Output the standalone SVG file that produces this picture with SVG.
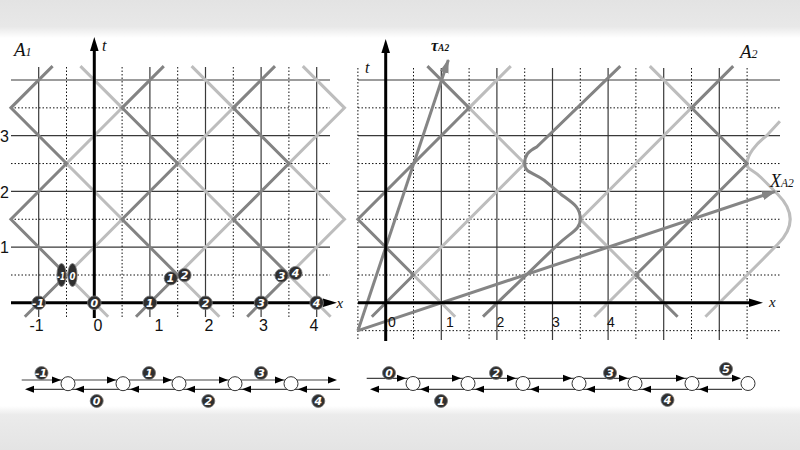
<svg xmlns="http://www.w3.org/2000/svg" xmlns:xlink="http://www.w3.org/1999/xlink" width="800" height="450" viewBox="0 0 800 450">
<defs>
<style>
.gs{stroke:#3a3a3a;stroke-width:1.2;fill:none}
.gd{stroke:#111;stroke-width:1;stroke-dasharray:1.5 2;fill:none}
.pg{stroke:#838383;stroke-width:3;fill:none;stroke-linejoin:miter}
.pl{stroke:#bdbdbd;stroke-width:3;fill:none;stroke-linejoin:miter}
.ax{stroke:#000;stroke-width:3;fill:none}
.arw{stroke:#858585;stroke-width:3;fill:none}
.tk{font-family:"Liberation Sans","DejaVu Sans",sans-serif;fill:#111}
.it{font-family:"Liberation Serif","DejaVu Serif",serif;font-style:italic;fill:#111}
.mk circle,.mk ellipse{fill:#2f2f2f;stroke:#777;stroke-width:0.8}
.mk text{fill:#fff;font-family:"DejaVu Sans","Liberation Sans",sans-serif;font-style:italic;font-weight:bold;font-size:11px;text-anchor:middle}
.ch line{stroke:#444;stroke-width:1.2}
.ch circle{fill:#fff;stroke:#333;stroke-width:1}
</style>
<linearGradient id="tb" x1="0" y1="0" x2="0" y2="1">
<stop offset="0" stop-color="#e3e3e3"/><stop offset="0.7" stop-color="#e8e8e8"/><stop offset="1" stop-color="#fff"/>
</linearGradient>
<linearGradient id="bb" x1="0" y1="0" x2="0" y2="1">
<stop offset="0" stop-color="#fff"/><stop offset="0.2" stop-color="#ebebeb"/><stop offset="1" stop-color="#e4e4e4"/>
</linearGradient>
<marker id="ga" markerUnits="userSpaceOnUse" markerWidth="15" markerHeight="10" refX="13" refY="4.5" orient="auto">
<path d="M0,0 L14,4.5 L0,9 z" fill="#858585"/>
</marker>
<path id="ah" d="M0,0 L-9,-3.5 L-9,3.5 Z" fill="#000"/>
</defs>
<rect width="800" height="450" fill="#fff"/>
<rect x="0" y="0" width="800" height="38" fill="url(#tb)"/>
<rect x="0" y="406" width="800" height="44" fill="url(#bb)"/>

<g id="grid-left">
<path class="gs" d="M11,80H330M11,135.7H330M11,191.4H330M11,247.1H330M38.7,67V317M149.9,67V317M205.5,67V317M261.1,67V317M316.7,67V317"/>
<path class="gd" d="M11,107.85H330M11,163.55H330M11,219.25H330M11,275H330M66.5,67V317M122.1,67V317M177.7,67V317M233.3,67V317M288.9,67V317"/>
</g>
<g id="grid-right">
<path class="gs" d="M358,80H780M358,135.7H780M358,191.4H780M358,247.1H780M441.3,68V340M496.9,68V340M552.5,68V340M608.1,68V340M663.7,68V340M719.3,68V340"/>
<path class="gd" d="M358,107.85H780M358,163.55H780M358,219.25H780M358,275H780M358,330.65H780M357.9,68V340M413.5,68V340M469.1,68V340M524.7,68V340M580.3,68V340M635.9,68V340M691.5,68V340M747.1,68V340"/>
</g>

<g id="connectors">
<polyline class="pl" points="108.2,316.7 66.5,275 122.1,219.25 66.5,163.55 122.1,107.85 80.4,66.1"/>
<polyline class="pl" points="219.4,316.7 177.7,275 233.3,219.25 177.7,163.55 233.3,107.85 191.6,66.1"/>
<polyline class="pl" points="330.6,316.7 288.9,275 344.5,219.25 288.9,163.55 344.5,107.85 302.8,66.1"/>
<polyline class="pg" points="24.8,316.7 66.5,275 10.9,219.25 66.5,163.55 10.9,107.85 52.6,66.1"/>
<polyline class="pg" points="136,316.7 177.7,275 122.1,219.25 177.7,163.55 122.1,107.85 163.8,66.1"/>
<polyline class="pg" points="247.2,316.7 288.9,275 233.3,219.25 288.9,163.55 233.3,107.85 275,66.1"/>

<polyline class="pl" points="455.2,316.7 413.5,275 524.7,163.55 469.1,107.85 510.8,66.1"/>
<polyline class="pl" points="594.2,316.7 635.9,275 580.3,219.25 691.5,107.85 649.8,66.1"/>
<path class="pl" d="M705.4,316.7 L777.7,244.3 Q802.7,219.25 777.7,194.2 L761,177.5 C752.7,169.1 747.1,170.2 747.1,163.55 C747.1,155.2 755.4,144.1 766.6,135.7 L779.9,121.2"/>
<polyline class="pg" points="371.8,316.7 413.5,275 357.9,219.25 469.1,107.85 427.4,66.1"/>
<polyline class="pg" points="677.6,316.7 635.9,275 747.1,163.55 691.5,107.85 733.2,66.1"/>
<path class="pg" d="M483,316.7 L558.06,244.3 C572,231.5 580.3,229.3 580.3,219.25 C580.3,207 573.63,203.65 560.84,194.19 L544.16,180.26 C533.04,171.9 524.7,173 524.7,163.55 C524.7,155.2 528,151.3 536.9,146.8 L620.3,66.1"/>

<line class="arw" x1="357.9" y1="330.65" x2="448.3" y2="60" marker-end="url(#ga)"/>
<line class="arw" x1="357.9" y1="330.65" x2="775" y2="191.5" marker-end="url(#ga)"/>
</g>

<g id="axes">
<line class="ax" x1="94.3" y1="318" x2="94.3" y2="50"/>
<polygon points="94.3,37 90,51 98.6,51" fill="#000"/>
<line class="ax" x1="11" y1="302.8" x2="325" y2="302.8"/>
<polygon points="337,302.8 323,298.5 323,307.1" fill="#000"/>
<line class="ax" x1="385.7" y1="341" x2="385.7" y2="52"/>
<polygon points="385.7,39 381.4,53 390,53" fill="#000"/>
<line class="ax" x1="358" y1="302.8" x2="750" y2="302.8"/>
<polygon points="763,302.8 749,298.5 749,307.1" fill="#000"/>
</g>

<g id="labels">
<text class="it" x="14" y="56" font-size="19">A<tspan font-size="12">1</tspan></text>
<text class="it" x="102" y="50.5" font-size="16">t</text>
<text class="it" x="336.5" y="307.5" font-size="15">x</text>
<text class="tk" x="0" y="142" font-size="16">3</text>
<text class="tk" x="0" y="197.5" font-size="16">2</text>
<text class="tk" x="0" y="253" font-size="16">1</text>
<text class="tk" font-size="16" text-anchor="middle" y="331"><tspan x="36.5">-1</tspan><tspan x="98">0</tspan><tspan x="159">1</tspan><tspan x="209">2</tspan><tspan x="263.5">3</tspan><tspan x="314">4</tspan></text>
<text class="it" x="740" y="58" font-size="19">A<tspan font-size="12">2</tspan></text>
<text class="it" x="365" y="73" font-size="16">t</text>
<text class="it" x="769" y="306.5" font-size="15">x</text>
<text class="it" x="431" y="50.5" font-size="16" font-weight="bold">τ<tspan font-size="9.5">A2</tspan></text>
<text class="it" x="770" y="186.5" font-size="18">X<tspan font-size="11.5">A2</tspan></text>
<text class="tk" font-size="14" text-anchor="middle" y="327"><tspan x="392">0</tspan><tspan x="450">1</tspan><tspan x="500.5">2</tspan><tspan x="556">3</tspan><tspan x="611">4</tspan></text>
</g>

<g id="markers-left" class="mk">
<g id="m-1"><circle cx="38.7" cy="302.8" r="6.8"/><text x="38.2" y="306.8">-1</text></g>
<g id="m0"><circle cx="94.3" cy="302.8" r="6.8"/><text x="94.3" y="306.8">0</text></g>
<g id="m1"><circle cx="149.9" cy="302.8" r="6.8"/><text x="149.9" y="306.8">1</text></g>
<g id="m2"><circle cx="205.5" cy="302.8" r="6.8"/><text x="205.5" y="306.8">2</text></g>
<g id="m3"><circle cx="261.1" cy="302.8" r="6.8"/><text x="261.1" y="306.8">3</text></g>
<g id="m4"><circle cx="316.7" cy="302.8" r="6.8"/><text x="316.7" y="306.8">4</text></g>
<g id="e-1"><ellipse cx="61.5" cy="275" rx="4.6" ry="11.5"/><text x="61" y="279.5" font-size="13" textLength="8" lengthAdjust="spacingAndGlyphs">-1</text></g>
<g id="e0"><ellipse cx="72.5" cy="275" rx="4.6" ry="11.5"/><text x="72.5" y="279.5" font-size="13" textLength="6" lengthAdjust="spacingAndGlyphs">0</text></g>
<g id="h1"><circle cx="170.8" cy="278.3" r="6.6"/><text x="170.5" y="282.3">1</text></g>
<g id="h2"><circle cx="184.5" cy="275" r="6.6"/><text x="184.5" y="279">2</text></g>
<g id="h3"><circle cx="281.5" cy="275.5" r="6.6"/><text x="281.5" y="279.5">3</text></g>
<g id="h4"><circle cx="295.5" cy="273" r="6.6"/><text x="295.5" y="277">4</text></g>
</g>

<g id="chain-left" class="ch">
<line x1="21.7" y1="380" x2="333" y2="380"/>
<line x1="28" y1="389.3" x2="340" y2="389.3"/>
<use xlink:href="#ah" transform="translate(61,380)"/>
<use xlink:href="#ah" transform="translate(116,380)"/>
<use xlink:href="#ah" transform="translate(172,380)"/>
<use xlink:href="#ah" transform="translate(228,380)"/>
<use xlink:href="#ah" transform="translate(284,380)"/>
<use xlink:href="#ah" transform="translate(337,380)"/>
<use xlink:href="#ah" transform="translate(25,389.3) scale(-1,1)"/>
<use xlink:href="#ah" transform="translate(75,389.3) scale(-1,1)"/>
<use xlink:href="#ah" transform="translate(130,389.3) scale(-1,1)"/>
<use xlink:href="#ah" transform="translate(186,389.3) scale(-1,1)"/>
<use xlink:href="#ah" transform="translate(242,389.3) scale(-1,1)"/>
<use xlink:href="#ah" transform="translate(298,389.3) scale(-1,1)"/>
<circle cx="68" cy="383.7" r="7"/>
<circle cx="123" cy="383.7" r="7"/>
<circle cx="179" cy="383.7" r="7"/>
<circle cx="235" cy="383.7" r="7"/>
<circle cx="291" cy="383.7" r="7"/>
</g>
<g id="chain-left-labels" class="mk">
<g><circle cx="41.5" cy="373" r="6.5"/><text x="41" y="377">-1</text></g>
<g><circle cx="149" cy="373" r="6.5"/><text x="149" y="377">1</text></g>
<g><circle cx="261" cy="373" r="6.5"/><text x="261" y="377">3</text></g>
<g><circle cx="96.7" cy="401" r="6.5"/><text x="96.7" y="405">0</text></g>
<g><circle cx="208.3" cy="401" r="6.5"/><text x="208.3" y="405">2</text></g>
<g><circle cx="318.3" cy="401" r="6.5"/><text x="318.3" y="405">4</text></g>
</g>

<g id="chain-right" class="ch">
<line x1="366.7" y1="378.3" x2="738" y2="378.3"/>
<line x1="373" y1="389.3" x2="742" y2="389.3"/>
<use xlink:href="#ah" transform="translate(406,378.3)"/>
<use xlink:href="#ah" transform="translate(461,378.3)"/>
<use xlink:href="#ah" transform="translate(516,378.3)"/>
<use xlink:href="#ah" transform="translate(572,378.3)"/>
<use xlink:href="#ah" transform="translate(628,378.3)"/>
<use xlink:href="#ah" transform="translate(685,378.3)"/>
<use xlink:href="#ah" transform="translate(741,378.3)"/>
<use xlink:href="#ah" transform="translate(370,389.3) scale(-1,1)"/>
<use xlink:href="#ah" transform="translate(420,389.3) scale(-1,1)"/>
<use xlink:href="#ah" transform="translate(475,389.3) scale(-1,1)"/>
<use xlink:href="#ah" transform="translate(530,389.3) scale(-1,1)"/>
<use xlink:href="#ah" transform="translate(586,389.3) scale(-1,1)"/>
<use xlink:href="#ah" transform="translate(642,389.3) scale(-1,1)"/>
<use xlink:href="#ah" transform="translate(699,389.3) scale(-1,1)"/>
<circle cx="413" cy="383.5" r="7"/>
<circle cx="468" cy="383.5" r="7"/>
<circle cx="523" cy="383.5" r="7"/>
<circle cx="579" cy="383.5" r="7"/>
<circle cx="635" cy="383.5" r="7"/>
<circle cx="692" cy="383.5" r="7"/>
<circle cx="748" cy="383.5" r="7"/>
</g>
<g id="chain-right-labels" class="mk">
<g><circle cx="389" cy="373" r="6.5"/><text x="389" y="377">0</text></g>
<g><circle cx="496" cy="373" r="6.5"/><text x="496" y="377">2</text></g>
<g><circle cx="610" cy="373" r="6.5"/><text x="610" y="377">3</text></g>
<g><circle cx="726" cy="369" r="6.5"/><text x="726" y="373">5</text></g>
<g><circle cx="441" cy="401" r="6.5"/><text x="441" y="405">1</text></g>
<g><circle cx="667.5" cy="400" r="6.5"/><text x="667.5" y="404">4</text></g>
</g>
</svg>
